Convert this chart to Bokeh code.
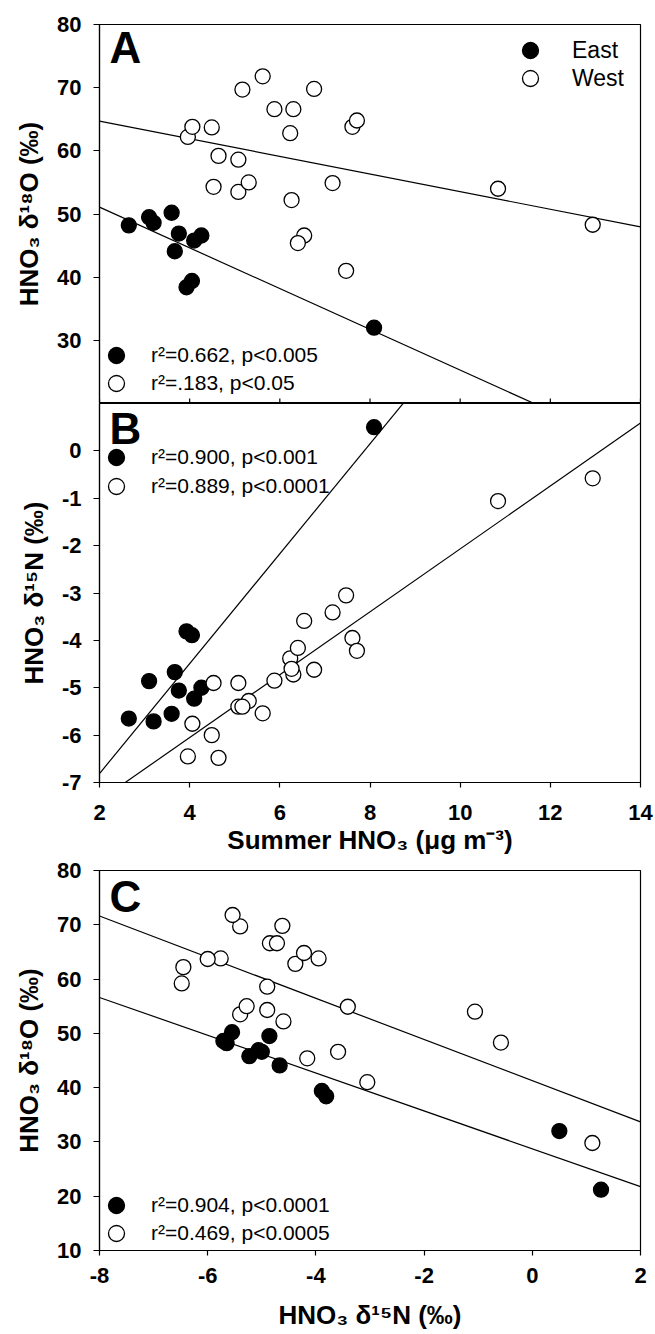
import numpy as np
from bokeh.plotting import figure
from bokeh.layouts import column
from bokeh.models import Range1d, FixedTicker, Legend, LegendItem, Label
from bokeh.embed import file_html
from bokeh.resources import INLINE

# ---- Summer HNO3 concentration (ug m-3) and nitrate isotopes (permil) per site
# East sites (last site has no HNO3 concentration)
east_hno3 = [2.65, 3.10, 3.20, 3.60, 3.67, 3.76, 3.93, 4.05, 4.10, 4.26, 8.09, np.nan]
east_d15n = [-5.65, -4.86, -5.71, -5.55, -4.67, -5.06, -3.81, -3.89, -5.23, -5.00, 0.50, 1.27]
east_d18o = [48.2, 49.5, 48.6, 50.2, 44.1, 46.9, 38.4, 39.4, 45.8, 46.6, 32.0, 21.2]

# West sites (last site has no HNO3 concentration)
west_hno3 = [3.96, 4.06, 4.49, 4.64, 4.53, 5.08, 5.08, 5.31, 5.17, 5.62, 5.88, 6.30,
             6.23, 6.26, 6.76, 6.54, 6.40, 7.17, 7.47, 7.61, 7.71, 10.84, 12.94, np.nan]
west_d15n = [-6.45, -5.76, -6.00, -6.48, -4.90, -4.90, -5.40, -5.28, -5.40, -5.54, -4.85, -4.72,
             -4.38, -4.60, -4.62, -3.59, -4.16, -3.41, -3.05, -3.95, -4.22, -1.06, -0.58, 1.11]
west_d18o = [62.2, 63.8, 63.7, 59.2, 54.3, 58.6, 53.5, 55.0, 69.7, 71.8, 66.6, 66.6,
             62.8, 52.2, 69.8, 46.6, 45.4, 54.9, 41.0, 63.8, 64.8, 54.0, 48.3, 29.8]

# Regression statistics shown in each panel
stats_a = ["r\u00b2=0.662, p<0.005", "r\u00b2=.183, p<0.05"]
stats_b = ["r\u00b2=0.900, p<0.001", "r\u00b2=0.889, p<0.0001"]
stats_c = ["r\u00b2=0.904, p<0.0001", "r\u00b2=0.469, p<0.0005"]
site_names = ["East", "West"]

# Axis extents and ticks
hno3_range = (2, 14)
hno3_ticks = [2, 4, 6, 8, 10, 12, 14]
d18o_range_a = (20, 80)
d18o_ticks_a = [30, 40, 50, 60, 70, 80]
d15n_range_b = (-7, 1)
d15n_ticks_b = [-7, -6, -5, -4, -3, -2, -1, 0]
d15n_range_c = (-8, 2)
d15n_ticks_c = [-8, -6, -4, -2, 0, 2]
d18o_range_c = (10, 80)
d18o_ticks_c = [10, 20, 30, 40, 50, 60, 70, 80]

FONT = "Liberation Sans"
LEFT, RIGHT = 99, 15
LINE_W = 1.2


def clean(x, y):
    x = np.asarray(x, float)
    y = np.asarray(y, float)
    ok = ~(np.isnan(x) | np.isnan(y))
    return x[ok], y[ok]


def fit_line(x, y, xr):
    x, y = clean(x, y)
    m, b = np.polyfit(x, y, 1)
    xs = np.array(xr, float)
    return xs, m * xs + b


def style_axis(ax, ticks, tick_out=6):
    ax.ticker = FixedTicker(ticks=ticks)
    # plain hyphen for negative numbers
    ax.major_label_overrides = {t: str(t) for t in ticks}
    ax.axis_line_color = "black"
    ax.axis_line_width = LINE_W
    ax.major_tick_line_color = "black"
    ax.major_tick_line_width = LINE_W
    ax.major_tick_out = tick_out
    ax.major_tick_in = 0
    ax.minor_tick_line_color = None
    ax.major_label_text_font = FONT
    ax.major_label_text_font_size = "22px"
    ax.major_label_text_font_style = "bold"
    ax.major_label_text_color = "black"
    ax.axis_label_text_font = FONT
    ax.axis_label_text_font_size = "26px"
    ax.axis_label_text_font_style = "bold"
    ax.axis_label_text_color = "black"


def make_panel(xr, yr, height, top, bottom, x_axis=True):
    p = figure(width=655, height=height, x_range=Range1d(*xr), y_range=Range1d(*yr),
               output_backend="svg", toolbar_location=None,
               x_axis_location="below" if x_axis else None,
               min_border_left=LEFT, min_border_right=RIGHT,
               min_border_top=top, min_border_bottom=bottom)
    p.xgrid.visible = False
    p.ygrid.visible = False
    p.outline_line_color = "black"
    p.outline_line_width = LINE_W
    p.background_fill_color = "white"
    p.border_fill_color = "white"
    return p


def add_points(p, xs, ys):
    xr = (p.x_range.start, p.x_range.end)
    # regression lines first so the markers sit on top
    for x, y in zip(xs, ys):
        lx, ly = fit_line(x, y, xr)
        p.line(lx, ly, line_color="black", line_width=LINE_W)
    xe, ye = clean(xs[0], ys[0])
    xw, yw = clean(xs[1], ys[1])
    r_e = p.scatter(xe, ye, marker="circle", size=15, fill_color="black",
                    line_color="black", line_width=1.3)
    r_w = p.scatter(xw, yw, marker="circle", size=15, fill_color="white",
                    line_color="black", line_width=1.3)
    return [r_e, r_w]


def add_key(p, labels, renderers, x, ys, size, standoff):
    # one single-row legend per entry so rows can sit closer than the glyph box
    for text, r, y in zip(labels, renderers, ys):
        lg = Legend(items=[LegendItem(label=text, renderers=[r])], location=(x, y),
                    orientation="vertical", padding=0, margin=0, spacing=0,
                    glyph_width=40, glyph_height=40, label_standoff=standoff,
                    label_height=20, label_width=20,
                    label_text_font=FONT, label_text_font_size=size,
                    label_text_color="black",
                    border_line_color=None, background_fill_alpha=0)
        p.add_layout(lg)


def add_letter(p, text, y):
    p.add_layout(Label(x=10, y=y, x_units="screen", y_units="screen", text=text,
                       text_font=FONT, text_font_size="44px", text_font_style="bold",
                       text_color="black", text_baseline="alphabetic"))


# ---- Panel A: HNO3 d18O vs summer HNO3
pa = make_panel(hno3_range, d18o_range_a, 403, 24, 0, x_axis=False)
ra = add_points(pa, (east_hno3, west_hno3), (east_d18o, west_d18o))
# inward tick marks along the shared edge with panel B (lower half clipped by the frame)
pa.scatter(hno3_ticks, [d18o_range_a[0]] * len(hno3_ticks), marker="dash",
           angle=np.pi / 2, size=10, line_color="black", line_width=LINE_W)
ya = pa.yaxis[0]
style_axis(ya, d18o_ticks_a)
ya.major_label_standoff = 12
ya.axis_label = "HNO\u2083 \u03b4\u00b9\u2078O (\u2030)"
ya.axis_label_standoff = 10
add_key(pa, site_names, ra, 411, [333, 305], "23px", 22)
add_key(pa, stats_a, ra, -3, [28, 0], "21px", 15)
add_letter(pa, "A", 356)

# ---- Panel B: HNO3 d15N vs summer HNO3
pb = make_panel(hno3_range, d15n_range_b, 454, 0, 74)
rb = add_points(pb, (east_hno3, west_hno3), (east_d15n, west_d15n))
xb = pb.xaxis[0]
style_axis(xb, hno3_ticks, tick_out=5)
xb.major_label_standoff = 17
xb.axis_label = "Summer HNO\u2083 (\u03bcg m\u207b\u00b3)"
xb.axis_label_standoff = 2
yb = pb.yaxis[0]
style_axis(yb, d15n_ticks_b)
yb.major_label_standoff = 12
yb.axis_label = "HNO\u2083 \u03b4\u00b9\u2075N (\u2030)"
yb.axis_label_standoff = 10
add_key(pb, stats_b, rb, -3, [305, 276], "21px", 15)
add_letter(pb, "B", 354)

# ---- Panel C: d18O vs d15N
pc = make_panel(d15n_range_c, d18o_range_c, 477, 13, 84)
rc = add_points(pc, (east_d15n, west_d15n), (east_d18o, west_d18o))
xc = pc.xaxis[0]
style_axis(xc, d15n_ticks_c, tick_out=5)
xc.major_label_standoff = 12
xc.axis_label = "HNO\u2083 \u03b4\u00b9\u2075N (\u2030)"
xc.axis_label_standoff = 14
yc = pc.yaxis[0]
style_axis(yc, d18o_ticks_c)
yc.major_label_standoff = 12
yc.axis_label = "HNO\u2083 \u03b4\u00b9\u2078O (\u2030)"
yc.axis_label_standoff = 10
add_key(pc, stats_c, rc, -3, [25, -3], "21px", 15)
add_letter(pc, "C", 354)

layout = column(pa, pb, pc, spacing=0)
open("out.html", "w").write(file_html(layout, INLINE))
